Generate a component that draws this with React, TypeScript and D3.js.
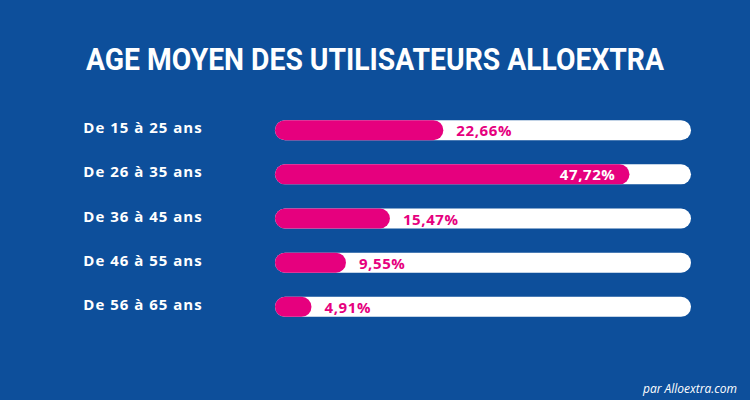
import React from "react";
import * as d3 from "d3";

const categories = ["De 15 à 25 ans", "De 26 à 35 ans", "De 36 à 45 ans", "De 46 à 55 ans", "De 56 à 65 ans"];
const values = [22.66, 47.72, 15.47, 9.55, 4.91];
const valueLabels = ["22,66%", "47,72%", "15,47%", "9,55%", "4,91%"];
const title = "AGE MOYEN DES UTILISATEURS ALLOEXTRA";
const footer = "par Alloextra.com";

const W = 750;
const H = 400;
const BG = "#0d4f9b";
const PINK = "#e6007e";

export default function App() {
  const x = d3.scaleLinear().domain([0, 56]).range([275, 691]);
  const y = d3.scaleBand().domain(categories).range([107, 330]).paddingInner(0.55).paddingOuter(0.3);
  const bh = 20;
  return (
    <svg width={W} height={H} style={{ position: "absolute", left: 0, top: 0 }}>
      <rect width={W} height={H} fill={BG} />
      <text x={375} y={70} textAnchor="middle" fill="#fff" fontFamily="Roboto" fontWeight={700} fontSize={32}
        textLength={578} lengthAdjust="spacingAndGlyphs">{title}</text>
      {categories.map((c, i) => {
        const cy = (y(c) as number) + y.bandwidth() / 2;
        const end = x(values[i]);
        const inside = end > 560;
        return (
          <g key={c}>
            <text x={143} y={cy + 3} textAnchor="middle" fill="#fff" fontFamily="Open Sans" fontWeight={700} fontSize={15}
              letterSpacing={1}>{c}</text>
            <rect x={x(0)} y={cy - bh / 2} width={x(56) - x(0)} height={bh} rx={bh / 2} fill="#fff" />
            <rect x={x(0)} y={cy - bh / 2} width={end - x(0)} height={bh} rx={bh / 2} fill={PINK} />
            <text x={inside ? end - 14 : end + 13} y={cy + 6} textAnchor={inside ? "end" : "start"}
              fill={inside ? "#fff" : PINK} fontFamily="Open Sans" fontWeight={700} fontSize={15}
              letterSpacing={0.6}>{valueLabels[i]}</text>
          </g>
        );
      })}
      <text x={737} y={393} textAnchor="end" fill="#fff" fontFamily="Open Sans" fontStyle="italic" fontSize={12}>{footer}</text>
    </svg>
  );
}
